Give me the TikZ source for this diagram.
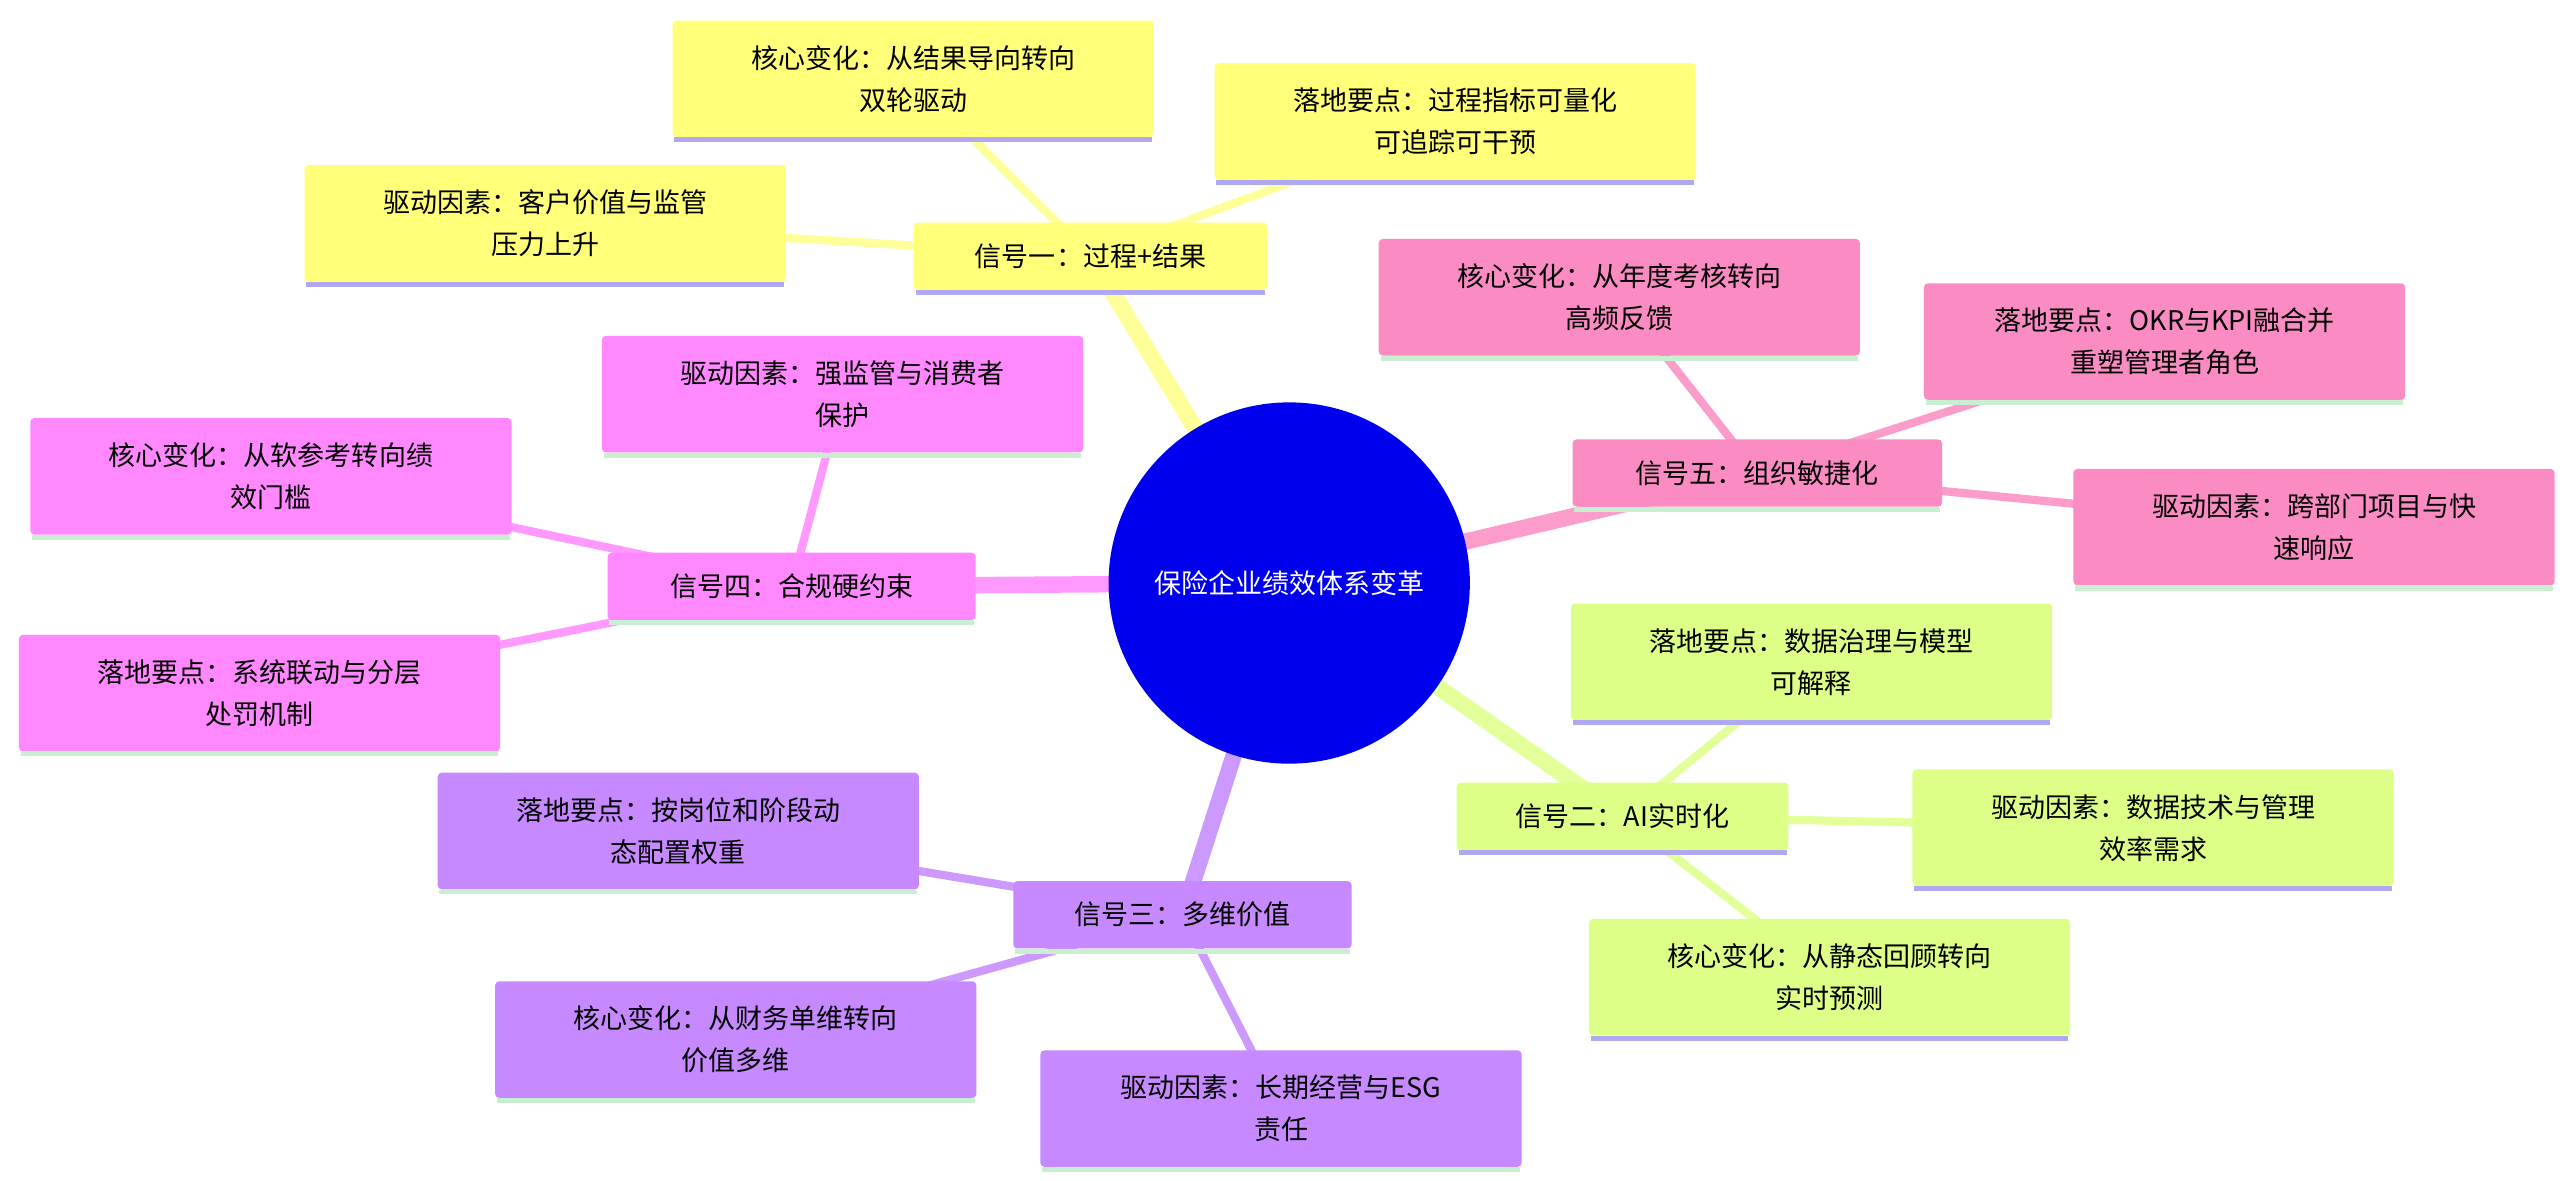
\documentclass[tikz,border=0pt]{standalone}
\usepackage{fontspec}
\setmainfont{Noto Sans CJK SC}
\begin{document}
\def\u{1.642pt}
\begin{tikzpicture}[x=1.642pt,y=-1.642pt,
  leaf/.style={rectangle,rounded corners=4pt,minimum width={293*\u},minimum height={71*\u},align=center,inner sep=0pt,font=\fontsize{27}{42}\selectfont},
  sig/.style={rectangle,rounded corners=4pt,minimum height={41*\u},align=center,inner sep=0pt,font=\fontsize{27}{34}\selectfont},
  thick line/.style={line width={10*\u}},
  thin line/.style={line width={5*\u}}]
\definecolor{cy}{HTML}{FFFF7A}\definecolor{ly}{HTML}{FFFF99}
\definecolor{cp}{HTML}{FA8BC3}\definecolor{lp}{HTML}{FB9CCB}
\definecolor{cm}{HTML}{FF88FF}\definecolor{lm}{HTML}{FF99FF}
\definecolor{cl}{HTML}{DDFF88}\definecolor{ll}{HTML}{E2FF99}
\definecolor{cv}{HTML}{C689FF}\definecolor{lv}{HTML}{CC99FF}
\definecolor{ulav}{HTML}{B0A8F0}\definecolor{ugrn}{HTML}{C8F0D0}
\useasboundingbox (0,0) rectangle (1560,719);
\fill[white] (0,0) rectangle (1560,719);
% nodes placed first as coordinates
\coordinate (c) at (785,355);
\coordinate (s1) at (664,156); \coordinate (s5) at (1070,288);
\coordinate (s4) at (482,357); \coordinate (s2) at (988,497);
\coordinate (s3) at (720,557);
% main connectors
\draw[thick line,ly] (c) -- (s1);
\draw[thick line,lp] (c) -- (s5);
\draw[thick line,lm] (c) -- (s4);
\draw[thick line,ll] (c) -- (s2);
\draw[thick line,lv] (c) -- (s3);
% leaves coordinates
\coordinate (a1) at (556,48); \coordinate (a2) at (886,74); \coordinate (a3) at (332,136);
\coordinate (b1) at (986,181); \coordinate (b2) at (1318,208); \coordinate (b3) at (1409,321);
\coordinate (d1) at (513,240); \coordinate (d2) at (165,290); \coordinate (d3) at (158,422);
\coordinate (e1) at (1103,403); \coordinate (e2) at (1311,504); \coordinate (e3) at (1114,595);
\coordinate (f1) at (413,506); \coordinate (f2) at (448,633); \coordinate (f3) at (780,675);
\foreach \s/\l/\col in {s1/a1/ly,s1/a2/ly,s1/a3/ly,s5/b1/lp,s5/b2/lp,s5/b3/lp,s4/d1/lm,s4/d2/lm,s4/d3/lm,s2/e1/ll,s2/e2/ll,s2/e3/ll,s3/f1/lv,s3/f2/lv,s3/f3/lv}
  \draw[thin line,\col] (\s) -- (\l);
% center
\node[circle,fill={rgb,255:red,0;green,0;blue,238},minimum size={220*\u},text=white,font=\fontsize{27}{34}\selectfont] (cn) at (c) {保险企业绩效体系变革};
% signals
\node[sig,fill=cy,minimum width={215*\u}] (n1) at (s1) {信号一：过程+结果};
\node[sig,fill=cp,minimum width={225*\u}] (n5) at (s5) {信号五：组织敏捷化};
\node[sig,fill=cm,minimum width={224*\u}] (n4) at (s4) {信号四：合规硬约束};
\node[sig,fill=cl,minimum width={202*\u}] (n2) at (s2) {信号二：AI实时化};
\node[sig,fill=cv,minimum width={206*\u}] (n3) at (s3) {信号三：多维价值};
% leaves
\node[leaf,fill=cy] (m1) at (a1) {核心变化：从结果导向转向\\双轮驱动};
\node[leaf,fill=cy] (m2) at (a2) {落地要点：过程指标可量化\\可追踪可干预};
\node[leaf,fill=cy] (m3) at (a3) {驱动因素：客户价值与监管\\压力上升};
\node[leaf,fill=cp] (p1) at (b1) {核心变化：从年度考核转向\\高频反馈};
\node[leaf,fill=cp] (p2) at (b2) {落地要点：OKR与KPI融合并\\重塑管理者角色};
\node[leaf,fill=cp] (p3) at (b3) {驱动因素：跨部门项目与快\\速响应};
\node[leaf,fill=cm] (q1) at (d1) {驱动因素：强监管与消费者\\保护};
\node[leaf,fill=cm] (q2) at (d2) {核心变化：从软参考转向绩\\效门槛};
\node[leaf,fill=cm] (q3) at (d3) {落地要点：系统联动与分层\\处罚机制};
\node[leaf,fill=cl] (r1) at (e1) {落地要点：数据治理与模型\\可解释};
\node[leaf,fill=cl] (r2) at (e2) {驱动因素：数据技术与管理\\效率需求};
\node[leaf,fill=cl] (r3) at (e3) {核心变化：从静态回顾转向\\实时预测};
\node[leaf,fill=cv] (t1) at (f1) {落地要点：按岗位和阶段动\\态配置权重};
\node[leaf,fill=cv] (t2) at (f2) {核心变化：从财务单维转向\\价值多维};
\node[leaf,fill=cv] (t3) at (f3) {驱动因素：长期经营与ESG\\责任};
% underlines
\foreach \n/\uc in {n1/ulav,m1/ulav,m2/ulav,m3/ulav,n2/ulav,r1/ulav,r2/ulav,r3/ulav,
  n5/ugrn,p1/ugrn,p2/ugrn,p3/ugrn,n4/ugrn,q1/ugrn,q2/ugrn,q3/ugrn,n3/ugrn,t1/ugrn,t2/ugrn,t3/ugrn}
  \draw[\uc,line width={3*\u}] ([xshift=2pt,yshift=-1.5*\u]\n.south west) -- ([xshift=-2pt,yshift=-1.5*\u]\n.south east);
\end{tikzpicture}
\end{document}
